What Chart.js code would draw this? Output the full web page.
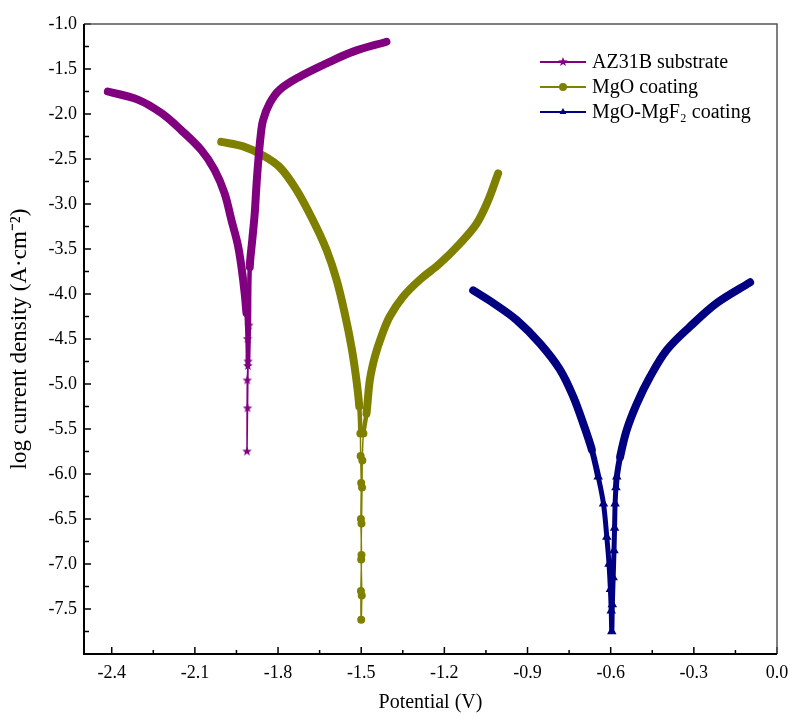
<!DOCTYPE html>
<html>
<head>
<meta charset="utf-8">
<title>Tafel polarization curves</title>
<script src="https://cdn.jsdelivr.net/npm/chart.js@4.4.0/dist/chart.umd.min.js"></script>
<style>
  html, body { margin: 0; background: #fff; }
  #wrap { position: relative; width: 790px; height: 716px; }
</style>
</head>
<body>
<div id="wrap"><canvas id="tafel"></canvas></div>
<script>
'use strict';

// polarization curves: potential (V) vs log current density
const azPotential = [-2.414, -2.306, -2.221, -2.149, -2.077, -2.029, -1.993, -1.968, -1.944, -1.926, -1.914, -1.910, -1.909, -1.911, -1.912, -1.910, -1.908, -1.905, -1.902, -1.893, -1.884, -1.878, -1.872, -1.863, -1.854, -1.830, -1.794, -1.722, -1.625, -1.529, -1.409];
const azLogI = [-1.75, -1.84, -1.99, -2.18, -2.40, -2.62, -2.88, -3.18, -3.47, -3.84, -4.21, -4.50, -4.80, -4.96, -5.75, -5.27, -4.75, -4.35, -3.70, -3.40, -3.10, -2.80, -2.55, -2.25, -2.07, -1.88, -1.73, -1.585, -1.437, -1.307, -1.197];

const mgoPotential = [-2.005, -1.926, -1.854, -1.794, -1.734, -1.674, -1.625, -1.589, -1.559, -1.535, -1.517, -1.507, -1.503, -1.502, -1.500, -1.501, -1.499, -1.501, -1.500, -1.498, -1.500, -1.499, -1.497, -1.496, -1.492, -1.481, -1.469, -1.451, -1.427, -1.397, -1.349, -1.288, -1.216, -1.144, -1.084, -1.042, -1.006];
const mgoLogI = [-2.31, -2.36, -2.46, -2.59, -2.84, -3.18, -3.51, -3.84, -4.22, -4.59, -4.96, -5.25, -5.55, -5.80, -6.10, -6.50, -6.90, -7.30, -7.62, -7.35, -6.95, -6.55, -6.15, -5.85, -5.55, -5.33, -4.96, -4.70, -4.47, -4.25, -4.03, -3.84, -3.66, -3.44, -3.22, -2.96, -2.66];

const mgfPotential = [-1.096, -1.024, -0.939, -0.855, -0.783, -0.735, -0.699, -0.668, -0.645, -0.626, -0.614, -0.606, -0.601, -0.598, -0.596, -0.594, -0.591, -0.588, -0.586, -0.584, -0.581, -0.578, -0.566, -0.542, -0.506, -0.458, -0.397, -0.313, -0.217, -0.097];
const mgfLogI = [-3.96, -4.10, -4.29, -4.55, -4.84, -5.14, -5.44, -5.73, -6.03, -6.33, -6.70, -7.00, -7.28, -7.52, -7.75, -7.45, -7.15, -6.85, -6.60, -6.33, -6.15, -6.03, -5.81, -5.51, -5.22, -4.92, -4.62, -4.36, -4.10, -3.87];

const seriesNames = ['AZ31B substrate', 'MgO coating', 'MgO-MgF\u2082 coating'];
const xTickValues = [-2.4, -2.1, -1.8, -1.5, -1.2, -0.9, -0.6, -0.3, 0.0];
const yTickValues = [-8.0, -7.5, -7.0, -6.5, -6.0, -5.5, -5.0, -4.5, -4.0, -3.5, -3.0, -2.5, -2.0, -1.5, -1.0];

const SERIF = "'Liberation Serif', 'Times New Roman', serif";
const PURPLE = '#800080', OLIVE = '#808000', NAVY = '#000080';

function starImage(color, r) {
  const c = document.createElement('canvas');
  const s = Math.ceil(r * 2 + 2);
  c.width = c.height = s;
  const g = c.getContext('2d');
  g.fillStyle = color;
  g.beginPath();
  for (let i = 0; i < 10; i++) {
    const rad = i % 2 ? r * 0.42 : r;
    const ang = -Math.PI / 2 + i * Math.PI / 5;
    g.lineTo(s / 2 + rad * Math.cos(ang), s / 2 + rad * Math.sin(ang));
  }
  g.closePath();
  g.fill();
  return c;
}

const toPoints = (xs, ys) => xs.map((x, i) => ({ x, y: ys[i] }));

// thick band where the measured points are dense, narrower with markers near Ecorr
function curve(label, xs, ys, color, style, look) {
  return {
    label,
    data: toPoints(xs, ys),
    showLine: true,
    borderColor: color,
    backgroundColor: color,
    borderCapStyle: 'round',
    borderJoinStyle: 'round',
    tension: 0.35,
    pointStyle: style,
    pointBackgroundColor: color,
    pointBorderColor: color,
    pointBorderWidth: 0,
    pointRadius: ctx => (ctx.raw && ctx.raw.y < look.taper ? look.radius : 0),
    pointHoverRadius: 0,
    segment: {
      borderWidth: ctx => {
        const lo = Math.min(ctx.p0.parsed.y, ctx.p1.parsed.y);
        return lo < look.tip ? look.thin : lo < look.taper ? look.mid : 8;
      }
    }
  };
}

const framePlugin = {
  id: 'frame',
  afterDatasetsDraw(chart) {
    const { ctx, chartArea: a, scales: { x, y } } = chart;
    ctx.save();
    ctx.strokeStyle = '#000';
    ctx.lineWidth = 1.5;
    ctx.beginPath();
    xTickValues.forEach((v, i) => {
      const px = x.getPixelForValue(v);
      ctx.moveTo(px, a.bottom); ctx.lineTo(px, a.bottom - 7);
      if (i < xTickValues.length - 1) {
        const m = x.getPixelForValue((v + xTickValues[i + 1]) / 2);
        ctx.moveTo(m, a.bottom); ctx.lineTo(m, a.bottom - 4);
      }
    });
    yTickValues.forEach((v, i) => {
      const py = y.getPixelForValue(v);
      ctx.moveTo(a.left, py); ctx.lineTo(a.left + 7, py);
      if (i < yTickValues.length - 1) {
        const m = y.getPixelForValue((v + yTickValues[i + 1]) / 2);
        ctx.moveTo(a.left, m); ctx.lineTo(a.left + 5, m);
      }
    });
    ctx.stroke();

    ctx.strokeStyle = '#555';
    ctx.lineWidth = 1.5;
    ctx.beginPath();
    ctx.moveTo(a.left, a.top); ctx.lineTo(a.right, a.top); ctx.lineTo(a.right, a.bottom);
    ctx.stroke();

    ctx.strokeStyle = '#000';
    ctx.lineWidth = 2;
    ctx.beginPath();
    ctx.moveTo(a.left, a.top); ctx.lineTo(a.left, a.bottom); ctx.lineTo(a.right, a.bottom);
    ctx.stroke();
    ctx.restore();
  }
};

const legendPlugin = {
  id: 'boxLegend',
  afterDraw(chart) {
    const { ctx } = chart;
    ctx.save();
    ctx.font = `20px ${SERIF}`;
    ctx.textBaseline = 'middle';
    chart.data.datasets.forEach((ds, i) => {
      const yy = 62 + i * 25;
      ctx.strokeStyle = ds.borderColor;
      ctx.lineWidth = 2;
      ctx.beginPath(); ctx.moveTo(540, yy); ctx.lineTo(586, yy); ctx.stroke();
      ctx.fillStyle = ds.borderColor;
      Chart.helpers.drawPoint(ctx, { pointStyle: ds.pointStyle, radius: 4, rotation: 0, borderWidth: 0 }, 563, yy);
      ctx.fillStyle = '#000';
      ctx.fillText(ds.label, 592, yy + 1);
    });
    ctx.restore();
  }
};

new Chart(document.getElementById('tafel'), {
  type: 'scatter',
  data: {
    datasets: [
      curve(seriesNames[0], azPotential, azLogI, PURPLE, starImage(PURPLE, 5),
        { taper: -4.3, tip: -4.85, mid: 4.5, thin: 1.5, radius: 5 }),
      curve(seriesNames[1], mgoPotential, mgoLogI, OLIVE, 'circle',
        { taper: -5.4, tip: -5.6, mid: 4.5, thin: 1.5, radius: 4 }),
      curve(seriesNames[2], mgfPotential, mgfLogI, NAVY, 'triangle',
        { taper: -5.9, tip: -6.2, mid: 6, thin: 5, radius: 5.5 })
    ]
  },
  options: {
    responsive: true,
    maintainAspectRatio: false,
    animation: false,
    layout: { padding: { top: 24, right: 13, left: 0, bottom: 0 } },
    plugins: { legend: { display: false }, tooltip: { enabled: false } },
    scales: {
      x: {
        type: 'linear', min: -2.5, max: 0,
        grid: { display: false, drawTicks: false },
        border: { display: false },
        afterBuildTicks: s => { s.ticks = xTickValues.map(value => ({ value })); },
        afterFit: s => { s.height = 62; s.paddingLeft = 0; s.paddingRight = 0; },
        ticks: {
          color: '#000', font: { family: SERIF, size: 18 }, padding: 8,
          maxRotation: 0, autoSkip: false, callback: v => v.toFixed(1)
        },
        title: {
          display: true, text: 'Potential (V)', color: '#000',
          font: { family: SERIF, size: 20 }, padding: { top: 1, bottom: 1 }
        }
      },
      y: {
        type: 'linear', min: -8, max: -1,
        grid: { display: false, drawTicks: false },
        border: { display: false },
        afterBuildTicks: s => { s.ticks = yTickValues.map(value => ({ value })); },
        afterFit: s => { s.width = 84; },
        ticks: {
          color: '#000', font: { family: SERIF, size: 18 }, padding: 7,
          autoSkip: false, callback: v => (v <= -8 ? '' : v.toFixed(1))
        },
        title: {
          display: true, text: 'log current density (A\u00b7cm\u207b\u00b2)', color: '#000',
          font: { family: SERIF, size: 23 }, padding: { top: 6, bottom: 6 }
        }
      }
    }
  },
  plugins: [framePlugin, legendPlugin]
});
</script>
</body>
</html>
